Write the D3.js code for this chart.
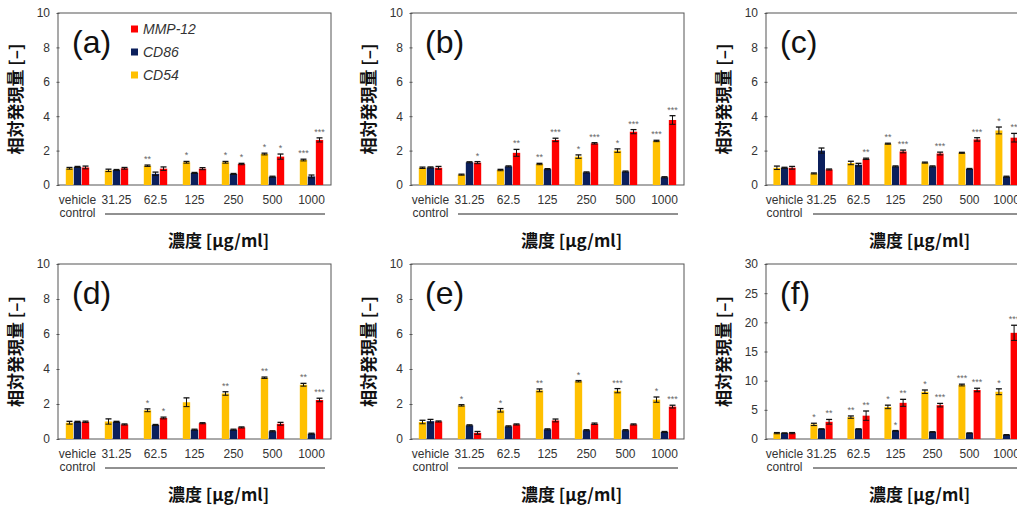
<!DOCTYPE html>
<html>
<head>
<meta charset="utf-8">
<script src="https://cdn.jsdelivr.net/npm/d3@7"></script>
<style>
  body { margin: 0; background: #fff; }
  svg { display: block; font-family: Arial, "Liberation Sans", sans-serif; }
</style>
</head>
<body>
<svg id="chart" width="1017" height="510"></svg>
<script>
// categories and series
var categories = ["vehicle", "31.25", "62.5", "125", "250", "500", "1000"];
var seriesNames = ["CD54", "CD86", "MMP-12"];
var seriesColors = ["#FFC000", "#0B1F5C", "#FF0000"];
var letters = ["(a)", "(b)", "(c)", "(d)", "(e)", "(f)"];
var yMaxes = [10, 10, 10, 10, 10, 30];
var yTickSteps = [2, 2, 2, 2, 2, 5];

// (a)
var aCD54 = [0.97, 0.85, 1.12, 1.32, 1.32, 1.80, 1.45];
var aCD86 = [1.05, 0.87, 0.65, 0.70, 0.64, 0.48, 0.50];
var aMMP12 = [1.02, 0.97, 0.95, 0.95, 1.22, 1.65, 2.62];
var aErrCD54 = [0.05, 0.07, 0.04, 0.05, 0.05, 0.05, 0.05];
var aErrCD86 = [0.03, 0.03, 0.10, 0.03, 0.03, 0.03, 0.08];
var aErrMMP12 = [0.08, 0.05, 0.10, 0.06, 0.04, 0.15, 0.12];
var aSigCD54 = ["", "", "**", "*", "*", "*", "***"];
var aSigCD86 = ["", "", "", "", "", "", ""];
var aSigMMP12 = ["", "", "", "", "*", "*", "***"];

// (b)
var bCD54 = [1.00, 0.60, 0.87, 1.22, 1.65, 2.00, 2.56];
var bCD86 = [1.02, 1.32, 1.08, 0.92, 0.73, 0.78, 0.45];
var bMMP12 = [1.00, 1.30, 1.87, 2.62, 2.42, 3.10, 3.78];
var bErrCD54 = [0.04, 0.03, 0.04, 0.04, 0.10, 0.10, 0.04];
var bErrCD86 = [0.03, 0.03, 0.03, 0.03, 0.03, 0.03, 0.03];
var bErrMMP12 = [0.08, 0.06, 0.20, 0.10, 0.04, 0.12, 0.25];
var bSigCD54 = ["", "", "", "**", "*", "*", "***"];
var bSigCD86 = ["", "", "", "", "", "", ""];
var bSigMMP12 = ["", "*", "**", "***", "***", "***", "***"];

// (c)
var cCD54 = [1.00, 0.67, 1.28, 2.40, 1.30, 1.87, 3.17];
var cCD86 = [1.00, 2.00, 1.18, 1.08, 1.08, 0.93, 0.48];
var cMMP12 = [1.00, 0.90, 1.52, 1.95, 1.83, 2.65, 2.75];
var cErrCD54 = [0.10, 0.03, 0.10, 0.03, 0.03, 0.03, 0.20];
var cErrCD86 = [0.03, 0.15, 0.08, 0.03, 0.03, 0.03, 0.03];
var cErrMMP12 = [0.08, 0.03, 0.04, 0.08, 0.08, 0.10, 0.25];
var cSigCD54 = ["", "", "", "**", "", "", "*"];
var cSigCD86 = ["", "", "", "", "", "", ""];
var cSigMMP12 = ["", "", "**", "***", "***", "***", "**"];

// (d)
var dCD54 = [0.93, 1.00, 1.64, 2.10, 2.60, 3.50, 3.10];
var dCD86 = [0.98, 0.98, 0.80, 0.53, 0.53, 0.44, 0.30];
var dMMP12 = [0.98, 0.83, 1.20, 0.90, 0.66, 0.87, 2.23];
var dErrCD54 = [0.08, 0.15, 0.08, 0.25, 0.10, 0.04, 0.08];
var dErrCD86 = [0.03, 0.03, 0.03, 0.03, 0.03, 0.03, 0.03];
var dErrMMP12 = [0.04, 0.03, 0.05, 0.03, 0.03, 0.08, 0.10];
var dSigCD54 = ["", "", "*", "", "**", "**", "**"];
var dSigCD86 = ["", "", "", "", "", "", ""];
var dSigMMP12 = ["", "", "*", "", "", "", "***"];

// (e)
var eCD54 = [0.97, 1.92, 1.64, 2.78, 3.30, 2.76, 2.25];
var eCD86 = [1.02, 0.78, 0.72, 0.55, 0.50, 0.50, 0.40];
var eMMP12 = [1.00, 0.35, 0.83, 1.06, 0.87, 0.83, 1.85];
var eErrCD54 = [0.10, 0.04, 0.10, 0.08, 0.04, 0.12, 0.15];
var eErrCD86 = [0.10, 0.03, 0.03, 0.03, 0.03, 0.03, 0.03];
var eErrMMP12 = [0.03, 0.08, 0.03, 0.08, 0.04, 0.03, 0.08];
var eSigCD54 = ["", "*", "*", "**", "*", "***", "*"];
var eSigCD86 = ["", "", "", "", "", "", ""];
var eSigMMP12 = ["", "", "", "", "", "", "***"];

// (f)
var fCD54 = [1.0, 2.5, 3.75, 5.5, 8.1, 9.25, 8.1];
var fCD86 = [1.0, 1.7, 1.7, 1.4, 1.2, 1.0, 0.7];
var fMMP12 = [1.0, 2.95, 4.0, 6.2, 5.8, 8.4, 18.2];
var fErrCD54 = [0.1, 0.2, 0.2, 0.3, 0.3, 0.15, 0.5];
var fErrCD86 = [0.05, 0.05, 0.05, 0.05, 0.05, 0.05, 0.05];
var fErrMMP12 = [0.1, 0.4, 0.8, 0.6, 0.3, 0.3, 1.3];
var fSigCD54 = ["", "*", "**", "*", "*", "***", "*"];
var fSigCD86 = ["", "", "", "*", "", "", ""];
var fSigMMP12 = ["", "**", "**", "**", "***", "***", "***"];

var panels = [
  [[aCD54, aCD86, aMMP12], [aErrCD54, aErrCD86, aErrMMP12], [aSigCD54, aSigCD86, aSigMMP12]],
  [[bCD54, bCD86, bMMP12], [bErrCD54, bErrCD86, bErrMMP12], [bSigCD54, bSigCD86, bSigMMP12]],
  [[cCD54, cCD86, cMMP12], [cErrCD54, cErrCD86, cErrMMP12], [cSigCD54, cSigCD86, cSigMMP12]],
  [[dCD54, dCD86, dMMP12], [dErrCD54, dErrCD86, dErrMMP12], [dSigCD54, dSigCD86, dSigMMP12]],
  [[eCD54, eCD86, eMMP12], [eErrCD54, eErrCD86, eErrMMP12], [eSigCD54, eSigCD86, eSigMMP12]],
  [[fCD54, fCD86, fMMP12], [fErrCD54, fErrCD86, fErrMMP12], [fSigCD54, fSigCD86, fSigMMP12]]
];

var svg = d3.select("#chart");
var colLefts = [58, 411, 766];
var colWidths = [273, 273, 259];
var rowTops = [13, 264];
var rowBottoms = [185, 439];

function drawPanel(p){
  var col = p % 3, row = Math.floor(p / 3);
  var left = colLefts[col], top = rowTops[row], bottom = rowBottoms[row];
  var plotW = colWidths[col];
  var vals = panels[p][0], errs = panels[p][1], sigs = panels[p][2];

  var g = svg.append("g").attr("transform", "translate(" + left + ",0)");

  var x = d3.scaleBand().domain(categories).range([0, plotW]).paddingInner(0.4).paddingOuter(0.2);
  var xs = d3.scaleBand().domain(seriesNames).range([0, x.bandwidth()]).paddingInner(0.08);
  var y = d3.scaleLinear().domain([0, yMaxes[p]]).range([bottom, top]);

  // frame
  g.append("rect")
    .attr("x", 0).attr("y", top)
    .attr("width", plotW).attr("height", bottom - top)
    .attr("fill", "none").attr("stroke", "#555").attr("stroke-width", 1);

  // y axis
  var yAxis = d3.axisLeft(y).ticks(yMaxes[p] / yTickSteps[p]).tickSize(3).tickPadding(5);
  var ya = g.append("g").call(yAxis);
  ya.select(".domain").remove();
  ya.selectAll("line").attr("stroke", "#555").attr("transform", "translate(1.5,0)");
  ya.selectAll("text").attr("font-size", 12).attr("fill", "#333");

  // bars
  seriesNames.forEach(function(s, si){
    var data = categories.map(function(c, ci){ return {c: c, v: vals[si][ci], e: errs[si][ci], sig: sigs[si][ci]}; });
    var cx = function(d){ return x(d.c) + xs(s); };
    g.selectAll(".bar" + si).data(data).enter().append("rect")
      .attr("x", cx)
      .attr("y", function(d){ return y(d.v); })
      .attr("width", xs.bandwidth())
      .attr("height", function(d){ return bottom - y(d.v); })
      .attr("fill", seriesColors[si]);

    // error bars
    var eb = g.selectAll(".err" + si).data(data).enter().append("g");
    var mid = function(d){ return cx(d) + xs.bandwidth() / 2; };
    eb.append("line")
      .attr("x1", mid).attr("x2", mid)
      .attr("y1", function(d){ return y(d.v - d.e); })
      .attr("y2", function(d){ return y(d.v + d.e); })
      .attr("stroke", "#111").attr("stroke-width", 1);
    eb.append("line")
      .attr("x1", function(d){ return mid(d) - 3; }).attr("x2", function(d){ return mid(d) + 3; })
      .attr("y1", function(d){ return y(d.v + d.e); }).attr("y2", function(d){ return y(d.v + d.e); })
      .attr("stroke", "#111").attr("stroke-width", 1.3);
    eb.append("line")
      .attr("x1", function(d){ return mid(d) - 3; }).attr("x2", function(d){ return mid(d) + 3; })
      .attr("y1", function(d){ return y(d.v - d.e); }).attr("y2", function(d){ return y(d.v - d.e); })
      .attr("stroke", "#111").attr("stroke-width", 1);

    // significance
    g.selectAll(".sig" + si).data(data.filter(function(d){ return d.sig; })).enter().append("text")
      .attr("x", mid)
      .attr("y", function(d){ return y(d.v + d.e) - 3; })
      .attr("text-anchor", "middle")
      .attr("font-size", 9)
      .attr("fill", "#666")
      .text(function(d){ return d.sig; });
  });

  // x labels
  g.selectAll(".xl").data(categories).enter().append("text")
    .attr("x", function(d){ return x(d) + x.bandwidth() / 2; })
    .attr("y", bottom + 19)
    .attr("text-anchor", "middle")
    .attr("font-size", 12)
    .attr("fill", "#333")
    .text(function(d){ return d; });
  g.append("text")
    .attr("x", x(categories[0]) + x.bandwidth() / 2)
    .attr("y", bottom + 32)
    .attr("text-anchor", "middle")
    .attr("font-size", 12)
    .attr("fill", "#333")
    .text("control");
  g.append("line")
    .attr("x1", 47).attr("x2", plotW - 6)
    .attr("y1", bottom + 29).attr("y2", bottom + 29)
    .attr("stroke", "#222").attr("stroke-width", 1);

  // axis titles
  g.append("text")
    .attr("transform", "translate(-41," + ((top + bottom) / 2) + ") rotate(-90)")
    .attr("text-anchor", "middle")
    .attr("dominant-baseline", "middle")
    .attr("font-size", 17)
    .attr("font-weight", "bold")
    .attr("fill", "#111")
    .attr("font-family", "'Noto Sans CJK JP', sans-serif")
    .text("相対発現量 [–]");
  g.append("text")
    .attr("x", plotW / 2 + 24)
    .attr("y", bottom + 62)
    .attr("text-anchor", "middle")
    .attr("font-size", 17)
    .attr("font-weight", "bold")
    .attr("fill", "#111")
    .attr("font-family", "'Noto Sans CJK JP', sans-serif")
    .text("濃度 [µg/ml]");

  // panel letter
  g.append("text")
    .attr("x", 14).attr("y", top + 40)
    .attr("font-size", 32)
    .attr("fill", "#111")
    .text(letters[p]);

  // legend in (a)
  if (p === 0) {
    var legendOrder = [2, 1, 0];
    legendOrder.forEach(function(si, i){
      var ly = 29 + i * 23;
      g.append("rect").attr("x", 73).attr("y", ly - 3.5).attr("width", 7).attr("height", 7).attr("fill", seriesColors[si]);
      g.append("text").attr("x", 85).attr("y", ly + 5)
        .attr("font-size", 14).attr("font-style", "italic").attr("fill", "#333")
        .text(seriesNames[si]);
    });
  }
}

for (var p = 0; p < 6; p++) drawPanel(p);
</script>
</body>
</html>
